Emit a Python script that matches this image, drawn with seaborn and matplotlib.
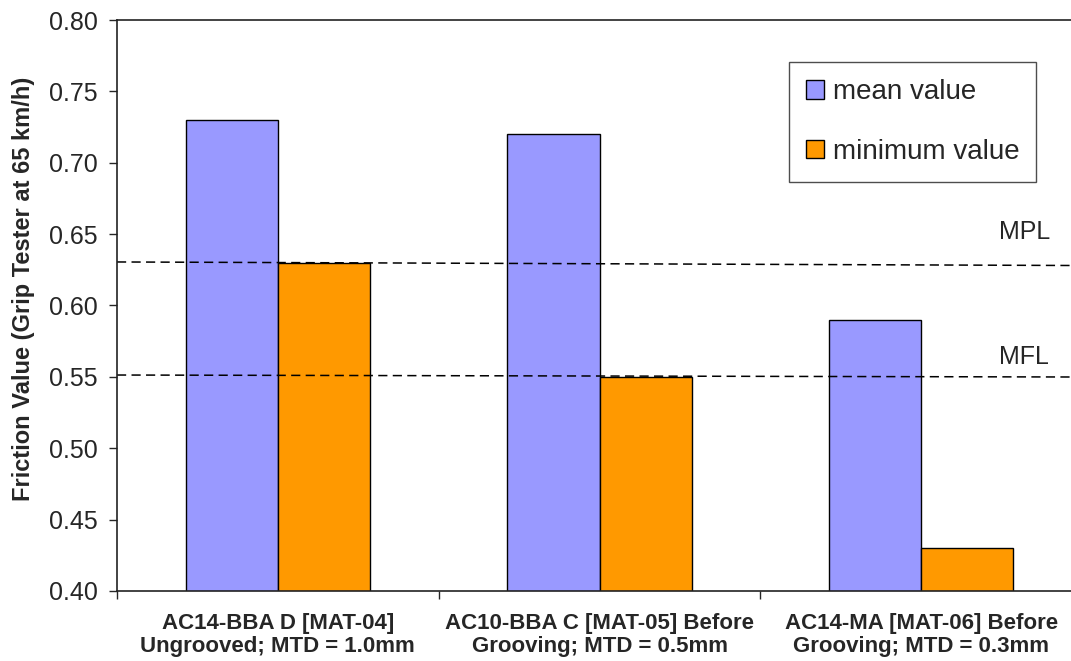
import pandas as pd
import matplotlib
matplotlib.use('Agg')
import matplotlib.pyplot as plt
from matplotlib.ticker import FormatStrFormatter, MultipleLocator, FixedLocator
import seaborn as sns

surfaces = ['AC14-BBA D [MAT-04]\nUngrooved; MTD = 1.0mm',
            'AC10-BBA C [MAT-05] Before\nGrooving; MTD = 0.5mm',
            'AC14-MA [MAT-06] Before\nGrooving; MTD = 0.3mm']
mean_values = [0.73, 0.72, 0.59]
min_values = [0.63, 0.55, 0.43]
series_names = ['mean value', 'minimum value']
# MPL / MFL reference lines (value at left edge, value at right edge)
mpl_line = [0.6305, 0.628]
mfl_line = [0.5513, 0.5499]

df = pd.DataFrame({
    'surface': surfaces * 2,
    'series': [series_names[0]] * 3 + [series_names[1]] * 3,
    'value': mean_values + min_values,
})

sns.set_style('white')
plt.rcParams['font.family'] = ['Liberation Sans', 'DejaVu Sans']

fig = plt.figure(figsize=(10.71, 6.61), dpi=100)
ax = fig.add_axes([117 / 1071, 70 / 661, 965 / 1071, 571 / 661])

sns.barplot(data=df, x='surface', y='value', hue='series',
            palette=['#9999FF', '#FF9900'], width=0.573,
            edgecolor='black', linewidth=1.0, saturation=1, ax=ax)

ax.set_xlim(-0.5, 2.5)
ax.set_ylim(0.40, 0.80)

ax.plot([-0.5, 2.5], mpl_line, color='black', lw=1.1, ls=(0, (6, 3.5)), clip_on=False)
ax.plot([-0.5, 2.5], mfl_line, color='black', lw=1.1, ls=(0, (6, 3.5)), clip_on=False)
ax.text(2.241, 0.6515, 'MPL', fontsize=18, va='center', ha='left')
ax.text(2.241, 0.564, 'MFL', fontsize=18, va='center', ha='left')

ax.yaxis.set_major_locator(MultipleLocator(0.05))
ax.yaxis.set_major_formatter(FormatStrFormatter('%.2f'))
ax.tick_params(axis='y', which='major', left=True, length=6, width=1, pad=8, labelsize=18)
ax.xaxis.set_minor_locator(FixedLocator([-0.5, 0.5, 1.5, 2.5]))
ax.tick_params(axis='x', which='major', bottom=False, length=0, pad=16, labelsize=16)
ax.tick_params(axis='x', which='minor', bottom=True, length=6, width=1)
for lbl in ax.get_xticklabels():
    lbl.set_fontweight('bold')
    lbl.set_linespacing(1.1)

ax.set_xlabel('')
ax.set_ylabel('Friction Value (Grip Tester at 65 km/h)', fontsize=17, fontweight='bold')
ax.yaxis.set_label_coords(-0.085, 0.529)

for side in ['left', 'bottom', 'top']:
    ax.spines[side].set_visible(True)
    ax.spines[side].set_color('#222222')
    ax.spines[side].set_linewidth(1.2)
ax.spines['right'].set_visible(False)

handles, labels = ax.get_legend_handles_labels()
leg = ax.legend(handles, labels, loc='upper left',
                bbox_to_anchor=(789 / 1071, 1 - 62 / 661), bbox_transform=fig.transFigure,
                borderaxespad=0, fontsize=20, frameon=True, fancybox=False,
                edgecolor='#222222', handlelength=0.65, handleheight=0.65,
                handletextpad=0.3, labelspacing=1.2, borderpad=0.62)
leg.get_frame().set_linewidth(1.0)

plt.savefig('out.png', dpi=100)
plt.close()
